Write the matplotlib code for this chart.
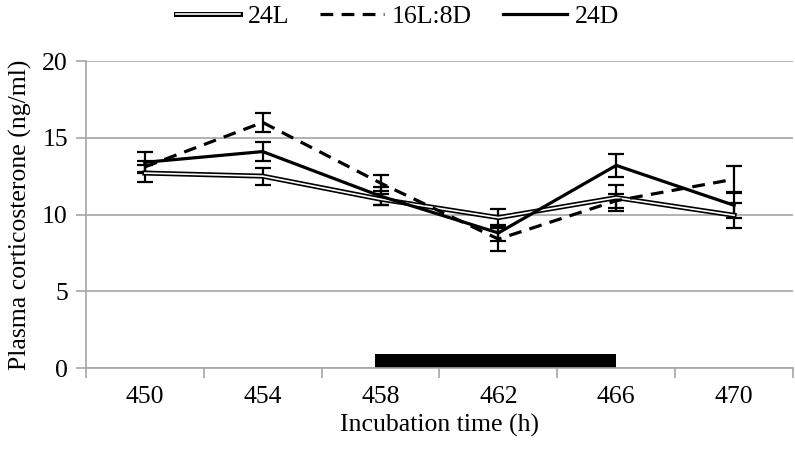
import numpy as np
import matplotlib
matplotlib.use("Agg")
import matplotlib.pyplot as plt
import matplotlib.patheffects as pe

plt.rcParams.update({
    "font.family": "Liberation Serif",
    "font.size": 18.5,
})

# data
hours = [450, 454, 458, 462, 466, 470]
mean_24L = [12.7, 12.5, 11.0, 9.8, 11.1, 9.95]
err_24L = [0.55, 0.55, 0.35, 0.55, 0.85, 0.8]
mean_16L8D = [13.1, 16.0, 12.05, 8.4, 10.9, 12.3]
err_16L8D = [0.4, 0.6, 0.5, 0.75, 0.45, 0.88]
mean_24D = [13.4, 14.1, 11.2, 8.8, 13.2, 10.6]
err_24D = [0.65, 0.6, 0.6, 0.5, 0.75, 0.85]
dark_period = (457.8, 466.0)   # hours of darkness (black bar)
dark_bar_height = 0.9

GRAY = "#A6A6A6"

fig = plt.figure(figsize=(7.95, 4.57), dpi=100)
ax = fig.add_axes([0.108, 0.1947, 0.8895, 0.6718])

x = np.arange(len(hours))


def to_idx(h):
    return (h - hours[0]) / (hours[1] - hours[0])


# dark period bar
d0, d1 = to_idx(dark_period[0]), to_idx(dark_period[1])
ax.bar(d0, dark_bar_height, width=d1 - d0, align="edge", color="black",
       linewidth=0, zorder=2)

ekw = dict(ecolor="black", elinewidth=1.6, capsize=5.5, capthick=1.6, zorder=3)

ax.errorbar(x, mean_24L, yerr=err_24L, fmt="none", **ekw)
ax.errorbar(x, mean_16L8D, yerr=err_16L8D, fmt="none", **ekw)
ax.errorbar(x, mean_24D, yerr=err_24D, fmt="none", **ekw)

ax.plot(x, mean_24L, color="white", linewidth=1.2, label="24L", zorder=4,
        solid_joinstyle="miter",
        path_effects=[pe.Stroke(linewidth=3.6, foreground="black"), pe.Normal()])
ax.plot(x, mean_16L8D, color="black", linewidth=2.3, linestyle=(0, (4, 2.6)),
        label="16L:8D", zorder=4)
ax.plot(x, mean_24D, color="black", linewidth=2.3, label="24D", zorder=5)

ax.set_xlim(-0.5, len(hours) - 0.5)
ax.set_ylim(0, 20)
ax.set_yticks([0, 5, 10, 15, 20])
ax.set_xticks(x)
ax.set_xticklabels([str(h) for h in hours])
ax.set_xticks(np.arange(-0.5, len(hours) - 0.4, 1.0), minor=True)
ax.tick_params(axis="x", which="major", length=0, pad=13)
ax.tick_params(axis="x", which="minor", length=7, color=GRAY, width=1.2)
ax.tick_params(axis="y", length=7, color=GRAY, width=1.2, pad=6)

ax.yaxis.grid(True, color=GRAY, linewidth=1.2)
ax.set_axisbelow(True)
for s in ["top", "right"]:
    ax.spines[s].set_visible(False)
for s in ["left", "bottom"]:
    ax.spines[s].set_color(GRAY)
    ax.spines[s].set_linewidth(1.2)

ax.set_xlabel("Incubation time (h)", labelpad=4)
ax.set_ylabel("Plasma corticosterone (ng/ml)", labelpad=7)

fig.legend(loc="upper center", bbox_to_anchor=(0.5, 0.99), ncol=3, frameon=False,
           handlelength=2.5, columnspacing=1.2, handletextpad=0.3,
           borderaxespad=0.0, borderpad=0.0)

fig.savefig("out.png", dpi=100, facecolor="white")
